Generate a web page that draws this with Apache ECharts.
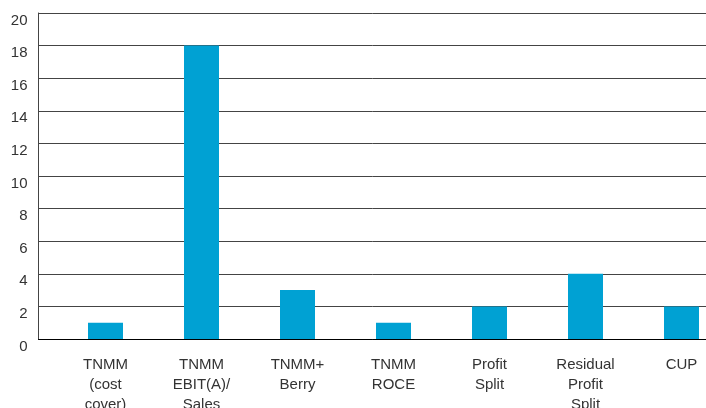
<!DOCTYPE html>
<html>
<head>
<meta charset="utf-8">
<script src="https://cdn.jsdelivr.net/npm/echarts@6/dist/echarts.min.js"></script>
<style>
  html, body { margin: 0; padding: 0; background: #fff; }
  #chart { width: 706px; height: 408px; }
</style>
</head>
<body>
<div id="chart"></div>
<script>
// Transfer pricing methods and how often each was applied
const categories = [
  'TNMM\n(cost\ncover)',
  'TNMM\nEBIT(A)/\nSales',
  'TNMM+\nBerry',
  'TNMM\nROCE',
  'Profit\nSplit',
  'Residual\nProfit\nSplit',
  'CUP'
];
const counts = [1, 18, 3, 1, 2, 4, 2];
const yTicks = { min: 0, max: 20, interval: 2 };

const font = 'Liberation Sans, Arial, sans-serif';
const chart = echarts.init(document.getElementById('chart'), null, { renderer: 'canvas' });

chart.setOption({
  animation: false,
  grid: [
    // frame: value axis, gridlines, baseline
    { left: 38.5, top: 13, right: 0, height: 326, containLabel: false, outerBoundsMode: 'none' },
    // bars and category labels
    { left: 57.5, top: 13, width: 672, height: 326, containLabel: false, outerBoundsMode: 'none' }
  ],
  xAxis: [
    {
      gridIndex: 0, type: 'category', data: categories,
      axisLine: { show: true, lineStyle: { color: '#000', width: 1 } },
      axisTick: { show: false }, axisLabel: { show: false }, splitLine: { show: false }
    },
    {
      gridIndex: 1, type: 'category', data: categories,
      axisLine: { show: false }, axisTick: { show: false },
      axisLabel: {
        color: '#333', fontFamily: font, fontSize: 15, lineHeight: 20,
        margin: 16, interval: 0, align: 'center'
      }
    }
  ],
  yAxis: [
    {
      gridIndex: 0, type: 'value', min: yTicks.min, max: yTicks.max, interval: yTicks.interval,
      axisLine: { show: true, lineStyle: { color: '#444', width: 1 } },
      axisTick: { show: false },
      axisLabel: {
        color: '#333', fontFamily: font, fontSize: 15, margin: 11,
        verticalAlign: 'top', padding: [0, 0, 0, 0]
      },
      splitLine: { show: true, lineStyle: { color: '#444', width: 1 } }
    },
    {
      gridIndex: 1, type: 'value', min: yTicks.min, max: yTicks.max, interval: yTicks.interval,
      show: false, splitLine: { show: false }
    }
  ],
  series: [{
    type: 'bar',
    xAxisIndex: 1, yAxisIndex: 1,
    data: counts,
    barWidth: 35,
    itemStyle: { color: '#00a1d3' }
  }]
});
</script>
</body>
</html>
